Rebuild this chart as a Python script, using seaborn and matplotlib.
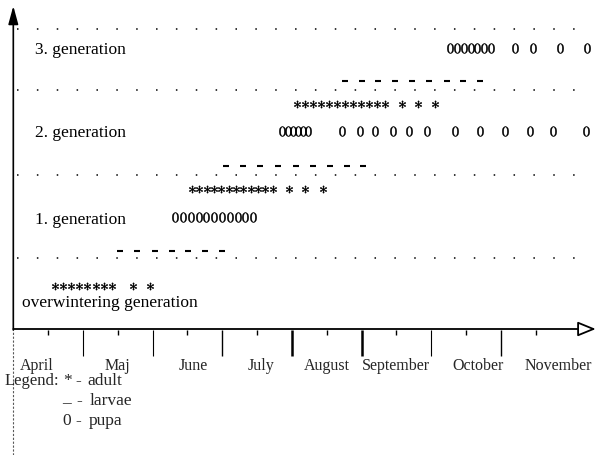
import matplotlib
matplotlib.use("Agg")
import matplotlib.pyplot as plt
import pandas as pd
import seaborn as sns

# Month axis: values are months counted from 1 April
months = ["April", "Maj", "June", "July", "August", "September", "October", "November"]
month_label_x = [0.33, 1.50, 2.58, 3.56, 4.50, 5.49, 6.67, 7.83]

# Generation labels and the vertical level of each band
generations = ["overwintering generation", "1. generation", "2. generation", "3. generation"]
gen_label_x = [0.125, 0.31, 0.31, 0.31]
gen_label_y = [2.8, 11.1, 19.8, 28.1]
separator_y = [7.2, 15.5, 24.0, 30.1]

# Observed stages (month position of every mark)
ow_adult = [0.60, 0.72, 0.83, 0.94, 1.06, 1.19, 1.30, 1.42, 1.72, 1.96]
ow_larva = [1.53, 1.78, 2.03, 2.28, 2.51, 2.75, 3.00]
g1_pupa = [2.32, 2.44, 2.55, 2.66, 2.77, 2.88, 3.00, 3.11, 3.23, 3.33, 3.44]
g1_adult = [2.56, 2.67, 2.78, 2.88, 2.98, 3.10, 3.20, 3.30, 3.41, 3.51, 3.61, 3.73,
            3.96, 4.19, 4.45]
g1_larva = [3.05, 3.30, 3.54, 3.80, 4.06, 4.30, 4.55, 4.79, 5.02]
g2_pupa = [3.86, 3.94, 4.02, 4.09, 4.16, 4.23, 4.72, 4.97, 5.19, 5.45, 5.68, 5.94,
           6.34, 6.70, 7.06, 7.42, 7.75, 8.22]
g2_adult = [4.07, 4.19, 4.30, 4.42, 4.53, 4.64, 4.76, 4.88, 4.99, 5.11, 5.22, 5.34,
            5.58, 5.81, 6.05]
g2_larva = [4.76, 5.00, 5.23, 5.48, 5.72, 5.97, 6.23, 6.46, 6.70]
g3_pupa = [6.27, 6.37, 6.47, 6.57, 6.66, 6.76, 6.86, 7.20, 7.46, 7.85, 8.23]

# Row level of each stage series
series = [
    ("adult", ow_adult, 4.4),
    ("larva", ow_larva, 7.9),
    ("pupa", g1_pupa, 11.3),
    ("adult", g1_adult, 14.1),
    ("larva", g1_larva, 16.4),
    ("pupa", g2_pupa, 19.9),
    ("adult", g2_adult, 22.6),
    ("larva", g2_larva, 24.9),
    ("pupa", g3_pupa, 28.2),
]

records = []
for stage, xs, level in series:
    for x in xs:
        records.append({"stage": stage, "month": x, "level": level})
df = pd.DataFrame(records)

sns.set_style("white")
plt.rcParams["font.family"] = ["Liberation Serif", "DejaVu Serif"]
plt.rcParams["mathtext.fontset"] = "stix"

fig = plt.figure(figsize=(5.97, 4.56), dpi=100)
ax = fig.add_axes([0, 0, 1, 1])
ax.set_xlim(-0.191, 8.378)
ax.set_ylim(-12.5, 33.1)
ax.axis("off")

# Dotted separators between generations
ax.hlines(separator_y, 0.05, 8.17, colors="black", linewidth=1.1,
          linestyles=[(0, (1, 12))])

# Stage marks
sns.scatterplot(data=df[df.stage == "adult"], x="month", y="level", marker=r"$\ast$",
                s=28, color="black", edgecolor="black", linewidth=0.3, ax=ax, legend=False)
sns.scatterplot(data=df[df.stage == "pupa"], x="month", y="level", marker="$0$",
                s=50, color="black", edgecolor="black", linewidth=0.3, ax=ax, legend=False)
sns.scatterplot(data=df[df.stage == "larva"], x="month", y="level", marker="_",
                s=20, color="black", linewidth=1.5, ax=ax, legend=False)

# Generation labels
for name, gx, gy in zip(generations, gen_label_x, gen_label_y):
    ax.text(gx, gy, name, fontsize=12.5, ha="left", va="center", color="black")

# Axes with arrows
ax.annotate("", xy=(0, 32.4), xytext=(0, 0),
            arrowprops=dict(arrowstyle="-|>,head_length=1.1,head_width=0.3",
                            color="black", lw=1.2, shrinkA=0, shrinkB=0))
ax.annotate("", xy=(8.36, 0.1), xytext=(0, 0.1),
            arrowprops=dict(arrowstyle="-|>,head_length=1.1,head_width=0.45",
                            facecolor="white", edgecolor="black", lw=1.3,
                            shrinkA=0, shrinkB=0))
ax.vlines(0, -12.5, 0, colors="0.35", linewidth=0.8, linestyles=[(0, (2, 1.5))])

# Month ticks
major = [1, 2, 3, 4, 5, 6, 7]
major_w = [0.8, 0.8, 1.0, 1.8, 1.8, 0.8, 1.0]
for mx, w in zip(major, major_w):
    ax.vlines(mx, -2.6, 0, colors="black", linewidth=w)
ax.vlines([0.5, 1.5, 2.5, 3.5, 4.5, 5.5, 6.5, 7.5], -0.5, 0, colors="black", linewidth=1.0)

for name, mx in zip(months, month_label_x):
    ax.text(mx, -3.5, name, fontsize=11.5, ha="center", va="center")

# Key to the symbols
key_fs = 12.5
ax.text(-0.13, -5.0, "Legend:", fontsize=12, ha="left", va="center")
ax.text(0.78, -5.0, "*", fontsize=key_fs, ha="center", va="center")
ax.text(0.93, -5.0, "-", fontsize=key_fs, ha="center", va="center")
ax.text(1.07, -5.0, "adult", fontsize=key_fs, ha="left", va="center")
ax.text(0.77, -7.5, "_", fontsize=key_fs, ha="center", va="bottom")
ax.text(0.95, -7.0, "-", fontsize=key_fs, ha="center", va="center")
ax.text(1.09, -7.0, "larvae", fontsize=key_fs, ha="left", va="center")
ax.text(0.77, -9.0, "0", fontsize=key_fs, ha="center", va="center")
ax.text(0.93, -9.0, "-", fontsize=key_fs, ha="center", va="center")
ax.text(1.08, -9.0, "pupa", fontsize=key_fs, ha="left", va="center")

fig.savefig("out.png", dpi=100)
